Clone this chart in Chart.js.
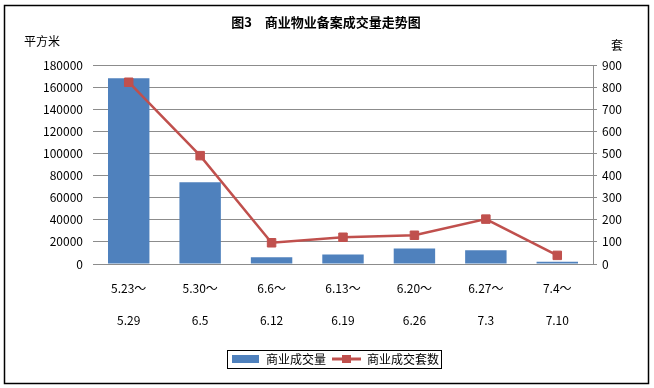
<!DOCTYPE html>
<html>
<head>
<meta charset="utf-8">
<script src="https://cdn.jsdelivr.net/npm/chart.js@4"></script>
<style>
    html, body { margin: 0; padding: 0; background: #fff; }
    #wrap { width: 654px; height: 388px; }
</style>
</head>
<body>
<div id="wrap"><canvas id="chart" width="654" height="388"></canvas></div>
<script>
    // Data
    const categories = [
        ['5.23～', '5.29'], ['5.30～', '6.5'], ['6.6～', '6.12'], ['6.13～', '6.19'],
        ['6.20～', '6.26'], ['6.27～', '7.3'], ['7.4～', '7.10']
    ];
    const areaValues = [168000, 74000, 6000, 8500, 14000, 12500, 2000];
    const unitValues = [822, 490, 96, 121, 130, 203, 39];

    const titleText = '图3　商业物业备案成交量走势图';
    const leftUnit = '平方米';
    const rightUnit = '套';

    const BLUE = '#4F81BD';
    const RED = '#C0504D';
    const GRID = '#8c8c8c';
    const FONT = 'SimSun, "Noto Sans CJK SC", sans-serif';

    // Legend icons
    function makeIcon(w, h, draw) {
        const c = document.createElement('canvas');
        c.width = w;
        c.height = h;
        draw(c.getContext('2d'));
        return c;
    }
    const barIcon = makeIcon(27, 8, ctx => {
        ctx.fillStyle = BLUE;
        ctx.fillRect(0, 0, 27, 8);
    });
    const lineIcon = makeIcon(29, 10, ctx => {
        ctx.strokeStyle = RED;
        ctx.lineWidth = 3;
        ctx.beginPath();
        ctx.moveTo(0, 5);
        ctx.lineTo(29, 5);
        ctx.stroke();
        ctx.fillStyle = RED;
        ctx.fillRect(10, 1, 9, 8);
    });

    // Frame, title, unit labels, legend border
    const decorPlugin = {
        id: 'decor',
        afterDraw(chart) {
            const ctx = chart.ctx;
            ctx.save();
            ctx.strokeStyle = '#000';
            ctx.lineWidth = 1.5;
            ctx.strokeRect(4.5, 5.5, 644, 378);

            ctx.fillStyle = '#000';
            ctx.textBaseline = 'middle';
            ctx.font = 'bold 13px ' + FONT;
            ctx.textAlign = 'center';
            ctx.fillText(titleText, 326, 22);

            ctx.font = '12px ' + FONT;
            ctx.textAlign = 'left';
            ctx.fillText(leftUnit, 24, 41);
            ctx.fillText(rightUnit, 611, 45);

            const boxes = chart.legend.legendHitBoxes;
            if (boxes && boxes.length) {
                const first = boxes[0];
                const last = boxes[boxes.length - 1];
                const left = Math.round(first.left) - 4;
                const right = Math.round(last.left + last.width) + 2;
                const top = Math.round(first.top) - 3;
                const bottom = Math.round(first.top + first.height) + 3;
                ctx.lineWidth = 1;
                ctx.strokeRect(left + 0.5, top + 0.5, right - left, bottom - top);
            }
            ctx.restore();
        }
    };

    new Chart(document.getElementById('chart'), {
        data: {
            labels: categories,
            datasets: [
                {
                    type: 'line',
                    label: '商业成交套数',
                    data: unitValues,
                    yAxisID: 'y1',
                    borderColor: RED,
                    borderWidth: 2.5,
                    backgroundColor: RED,
                    pointStyle: 'rect',
                    pointRadius: 6,
                    pointBorderWidth: 1,
                    pointBorderColor: RED,
                    tension: 0
                },
                {
                    type: 'bar',
                    label: '商业成交量',
                    data: areaValues,
                    yAxisID: 'y',
                    backgroundColor: BLUE,
                    categoryPercentage: 1,
                    barPercentage: 0.58
                }
            ]
        },
        options: {
            responsive: false,
            animation: false,
            layout: { padding: { top: 65, right: 0, bottom: 13, left: 16 } },
            plugins: {
                title: { display: false },
                tooltip: { enabled: false },
                legend: {
                    position: 'bottom',
                    labels: {
                        usePointStyle: true,
                        pointStyleWidth: 29,
                        padding: 6,
                        color: '#000',
                        font: { family: FONT, size: 12 },
                        generateLabels(chart) {
                            const icons = [lineIcon, barIcon];
                            return chart.data.datasets.map((ds, i) => ({
                                text: ds.label,
                                datasetIndex: i,
                                pointStyle: icons[i],
                                fillStyle: ds.backgroundColor,
                                strokeStyle: ds.backgroundColor,
                                lineWidth: 0,
                                hidden: false
                            })).reverse();
                        }
                    }
                }
            },
            scales: {
                x: {
                    grid: { display: false },
                    border: { display: true, color: GRID },
                    ticks: {
                        color: '#000',
                        padding: 0,
                        maxRotation: 0,
                        autoSkip: false,
                        font: { family: FONT, size: 12, lineHeight: 2.667 }
                    },
                    afterFit(scale) { scale.height = 83; }
                },
                y: {
                    position: 'left',
                    min: 0,
                    max: 180000,
                    grid: { color: GRID, drawTicks: false },
                    border: { display: false },
                    ticks: {
                        stepSize: 20000,
                        padding: 10,
                        color: '#000',
                        font: { family: FONT, size: 12 },
                        callback: value => String(value)
                    },
                    afterFit(scale) { scale.width = 77; }
                },
                y1: {
                    position: 'right',
                    min: 0,
                    max: 900,
                    grid: { drawOnChartArea: false, color: GRID, tickLength: 4 },
                    border: { display: true, color: GRID },
                    ticks: {
                        stepSize: 100,
                        padding: 5,
                        color: '#000',
                        font: { family: FONT, size: 12 },
                        callback: value => String(value)
                    },
                    afterFit(scale) { scale.width = 61; }
                }
            }
        },
        plugins: [decorPlugin]
    });
</script>
</body>
</html>
